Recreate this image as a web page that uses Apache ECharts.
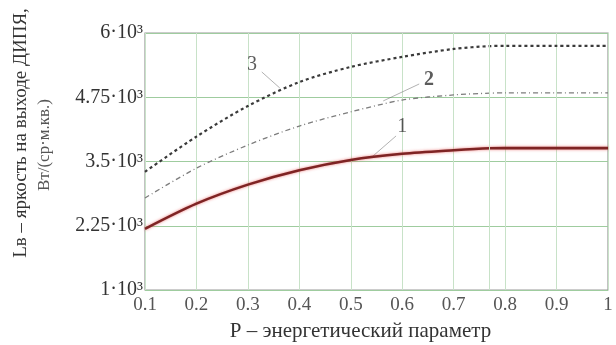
<!DOCTYPE html>
<html><head><meta charset="utf-8">
<script src="https://cdn.jsdelivr.net/npm/echarts@6/dist/echarts.min.js"></script>
<style>html,body{margin:0;padding:0;background:#fff}#c{width:616px;height:345px}</style>
</head><body><div id="c"></div>
<script>
// P values (energy parameter)
const pValues = [0.1, 0.2, 0.3, 0.4, 0.5, 0.6, 0.7, 0.77, 0.8, 0.9, 1.0];
// Brightness, W/(sr·m²)
const curve1 = [2190, 2680, 3050, 3330, 3530, 3650, 3720, 3757, 3760, 3760, 3760];
const curve2 = [2790, 3370, 3820, 4190, 4465, 4695, 4795, 4830, 4835, 4835, 4835];
const curve3 = [3300, 3985, 4580, 5045, 5340, 5535, 5690, 5745, 5750, 5750, 5750];
const yTicks = [1000, 2250, 3500, 4750, 6000];
const yTitle = ['Lв – яркость на выходе ДИПЯ,', 'Вт/(ср·м.кв.)'];
const xTitle = 'P – энергетический параметр';
// curve annotations: label, label point, leader from, leader to (data space)
const notes = [
  {text: '1', at: [0.600, 4172], from: [0.588, 3997], to: [0.541, 3588], bold: false},
  {text: '2', at: [0.652, 5086], from: [0.633, 5008], to: [0.563, 4678], bold: true},
  {text: '3', at: [0.308, 5378], from: [0.327, 5242], to: [0.362, 4930], bold: false}
];
const BASE = yTicks[0];
const off = arr => arr.map((v, i) => [pValues[i], v - BASE]);
const serif = '"Liberation Serif", "DejaVu Serif", serif';

const chart = echarts.init(document.getElementById('c'));
chart.setOption({
  animation: false,
  grid: {left: 145, right: 8, top: 33, bottom: 55, containLabel: false, outerBoundsMode: 'none',
    show: true, borderColor: '#9a9a9a', borderWidth: 1.2},
  graphic: [
    {type: 'text', x: 21, y: 133, rotation: Math.PI / 2,
      style: {text: yTitle[0], font: '19px ' + serif, fill: '#333', align: 'center', verticalAlign: 'middle'}},
    {type: 'text', x: 45, y: 145, rotation: Math.PI / 2,
      style: {text: yTitle[1], font: '17px ' + serif, fill: '#555', align: 'center', verticalAlign: 'middle'}}
  ],
  xAxis: {
    type: 'value', min: 0.1, max: 1, interval: 0.1,
    axisLine: {show: false}, axisTick: {show: false},
    axisLabel: {fontFamily: serif, fontSize: 19, color: '#555', margin: 6,
      formatter: v => Math.abs(v - 1) < 1e-9 ? '1' : v.toFixed(1)},
    splitLine: {show: true, lineStyle: {color: '#c8e2c8', width: 1}},
    name: xTitle, nameLocation: 'middle', nameGap: 31,
    nameTextStyle: {fontFamily: serif, fontSize: 21, color: '#333', padding: [0, 32, 0, 0]}
  },
  yAxis: {
    type: 'value', min: 0, max: yTicks[yTicks.length - 1] - BASE, interval: yTicks[1] - yTicks[0],
    axisLine: {show: false}, axisTick: {show: false},
    axisLabel: {fontFamily: serif, fontSize: 20, color: '#333', margin: 2,
      formatter: v => String(Math.round(v + BASE) / 1000) + '·10³'},
    splitLine: {show: true, lineStyle: {color: '#9fcc9f', width: 1.2}}
  },
  series: [
    {type: 'line', data: off(curve1), smooth: 0.3, symbol: 'none',
      lineStyle: {color: '#7e2424', width: 2.6, shadowColor: 'rgba(230,70,70,0.7)', shadowBlur: 3},
      markLine: {silent: true, symbol: 'none', label: {show: false},
        lineStyle: {color: '#c8e2c8', width: 1, type: 'solid'},
        data: [{xAxis: 0.77}]}},
    {type: 'line', data: off(curve2), smooth: 0.3, symbol: 'none',
      lineStyle: {color: '#7d7d7d', width: 1.3, type: [5, 3, 1, 3]}},
    {type: 'line', data: off(curve3), smooth: 0.3, symbol: 'none',
      lineStyle: {color: '#3a3a3a', width: 2.2, type: [3, 3]}},
    {type: 'lines', coordinateSystem: 'cartesian2d', silent: true,
      lineStyle: {color: '#666', width: 1},
      data: notes.map(n => ({coords: [[n.from[0], n.from[1] - BASE], [n.to[0], n.to[1] - BASE]]}))},
    {type: 'scatter', symbolSize: 0, silent: true,
      label: {show: true, position: 'inside', fontFamily: serif, fontSize: 20, color: '#333',
        formatter: p => notes[p.dataIndex].text},
      data: notes.map(n => ({value: [n.at[0], n.at[1] - BASE],
        label: {fontWeight: n.bold ? 'bold' : 'normal'}}))}
  ]
});
</script></body></html>
